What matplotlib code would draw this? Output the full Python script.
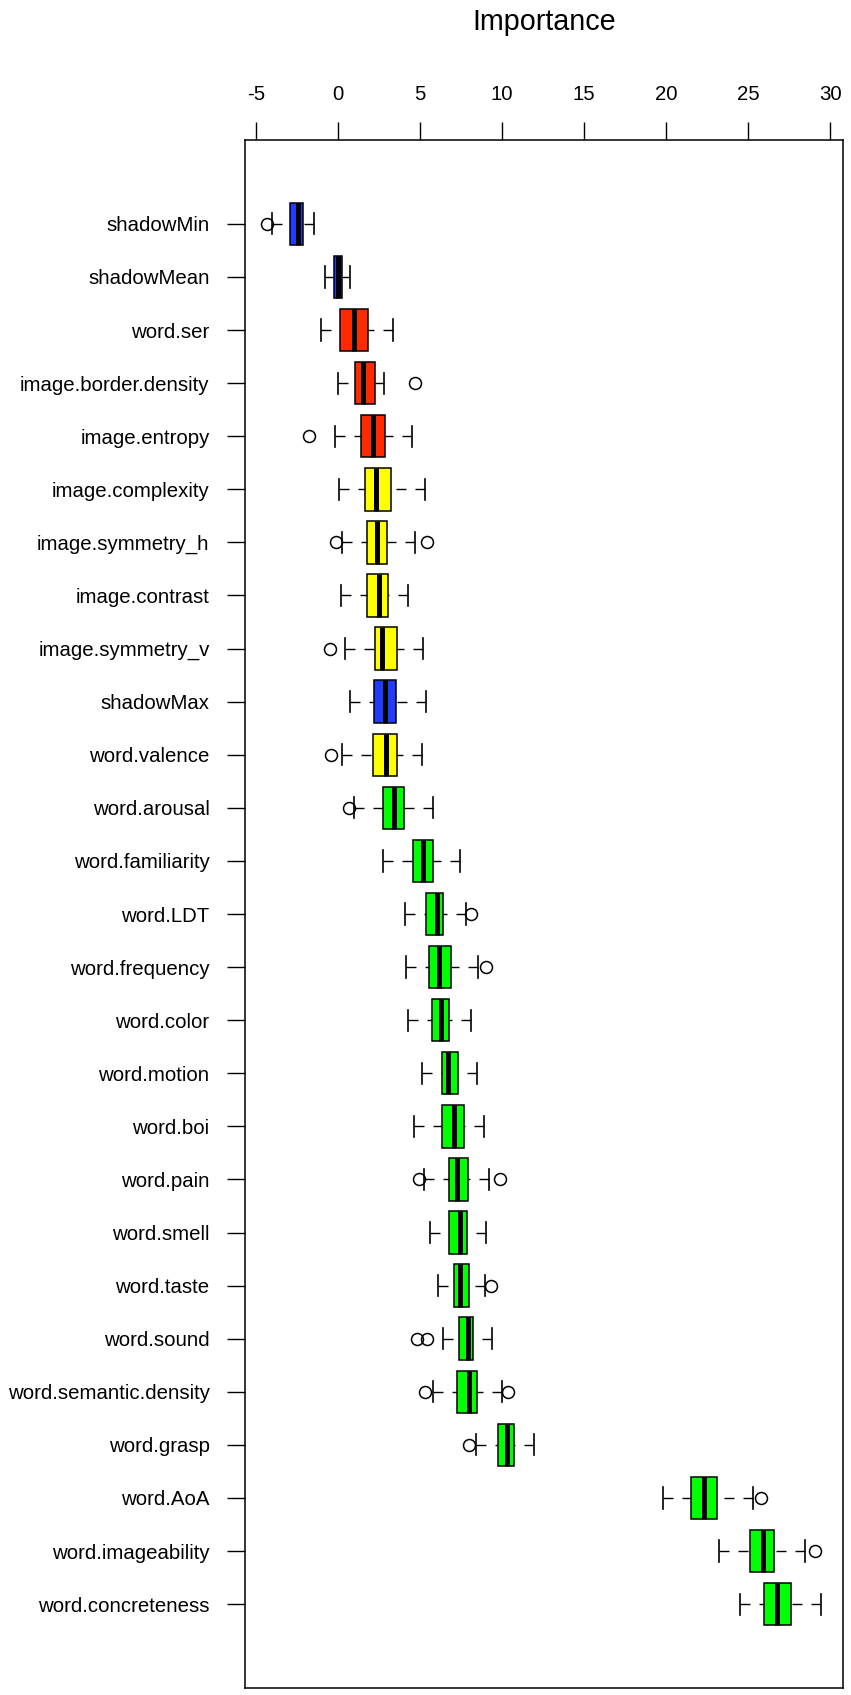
import matplotlib
matplotlib.use("Agg")
import matplotlib.pyplot as plt

# ---------------- data ----------------
features = [
    "shadowMin", "shadowMean", "word.ser", "image.border.density", "image.entropy",
    "image.complexity", "image.symmetry_h", "image.contrast", "image.symmetry_v",
    "shadowMax", "word.valence", "word.arousal", "word.familiarity", "word.LDT",
    "word.frequency", "word.color", "word.motion", "word.boi", "word.pain",
    "word.smell", "word.taste", "word.sound", "word.semantic.density", "word.grasp",
    "word.AoA", "word.imageability", "word.concreteness",
]
decision = [
    "shadow", "shadow", "rejected", "rejected", "rejected",
    "tentative", "tentative", "tentative", "tentative",
    "shadow", "tentative", "confirmed", "confirmed", "confirmed",
    "confirmed", "confirmed", "confirmed", "confirmed", "confirmed",
    "confirmed", "confirmed", "confirmed", "confirmed", "confirmed",
    "confirmed", "confirmed", "confirmed",
]
whisker_low = [-4.02, -0.77, -1.03, -0.02, -0.20, 0.04, 0.25, 0.19, 0.45, 0.76, 0.25,
               0.96, 2.74, 4.06, 4.12, 4.27, 5.10, 4.61, 5.22, 5.59, 6.07, 6.38,
               5.82, 8.41, 19.84, 23.23, 24.51]
q1 = [-2.94, -0.26, 0.15, 1.06, 1.40, 1.63, 1.77, 1.77, 2.24, 2.18, 2.12,
      2.74, 4.55, 5.38, 5.57, 5.75, 6.34, 6.34, 6.74, 6.78, 7.05, 7.39,
      7.25, 9.75, 21.50, 25.12, 25.99]
median = [-2.43, -0.02, 0.96, 1.53, 2.12, 2.32, 2.38, 2.52, 2.68, 2.85, 2.93,
          3.41, 5.18, 6.03, 6.16, 6.28, 6.70, 7.05, 7.25, 7.41, 7.41, 7.90,
          8.00, 10.30, 22.33, 25.93, 26.74]
q3 = [-2.13, 0.25, 1.83, 2.24, 2.87, 3.21, 3.01, 3.07, 3.60, 3.54, 3.62,
      4.02, 5.81, 6.40, 6.87, 6.78, 7.29, 7.70, 7.90, 7.86, 7.98, 8.26,
      8.50, 10.76, 23.09, 26.60, 27.60]
whisker_high = [-1.44, 0.76, 3.33, 2.79, 4.53, 5.32, 4.71, 4.27, 5.18, 5.38, 5.12,
                5.77, 7.41, 7.80, 8.51, 8.12, 8.47, 8.88, 9.18, 9.02, 8.98, 9.40,
                10.00, 11.92, 25.28, 28.47, 29.44]
outliers = [
    [-4.32], [], [], [4.71], [-1.74],
    [], [-0.14, 5.42], [], [-0.46],
    [], [-0.40], [0.65], [], [8.12],
    [9.02], [], [], [], [4.92, 9.89],
    [], [9.34], [4.81, 5.41], [5.29, 10.34], [8.00],
    [25.79], [29.07], [],
]
x_ticks = [-5, 0, 5, 10, 15, 20, 25, 30]
axis_title = "Importance"

# ---------------- styles ----------------
decision_colors = {
    "shadow": "#1f3cff",
    "rejected": "#ff2a00",
    "tentative": "#ffff00",
    "confirmed": "#00ff00",
}

plt.rcParams["font.family"] = ["Liberation Sans", "DejaVu Sans"]

W, H = 851, 1695
fig = plt.figure(figsize=(W / 100, H / 100), dpi=100)
ax_left, ax_right, ax_top, ax_bottom = 245, 843, 140, 1688
ax = fig.add_axes([ax_left / W, 1 - ax_bottom / H,
                   (ax_right - ax_left) / W, (ax_bottom - ax_top) / H])

stats = []
for i in range(len(features)):
    stats.append(dict(med=median[i], q1=q1[i], q3=q3[i],
                      whislo=whisker_low[i], whishi=whisker_high[i],
                      fliers=outliers[i], label=features[i]))

positions = list(range(1, len(features) + 1))
bp = ax.bxp(stats, positions=positions, orientation="horizontal",
            widths=0.8, capwidths=0.4, patch_artist=True,
            boxprops=dict(linewidth=1.1, edgecolor="black"),
            medianprops=dict(color="black", linewidth=3.6, solid_capstyle="butt"),
            whiskerprops=dict(color="black", linewidth=1.0, linestyle=(0, (7.2, 6.5))),
            capprops=dict(color="black", linewidth=1.2),
            flierprops=dict(marker="o", markerfacecolor="none",
                            markeredgecolor="black", markersize=8.6,
                            markeredgewidth=1.1, linestyle="none"))

for patch, dec in zip(bp["boxes"], decision):
    patch.set_facecolor(decision_colors[dec])

# dashes start at the whisker end, as in R
for wl in bp["whiskers"]:
    xd, yd = wl.get_data()
    wl.set_data(list(xd)[::-1], list(yd)[::-1])

lo_all = min(min(whisker_low), min(min(o) for o in outliers if o))
hi_all = max(max(whisker_high), max(max(o) for o in outliers if o))
pad = 0.04 * (hi_all - lo_all)
ax.set_xlim(lo_all - pad, hi_all + pad)
n = len(features)
ax.set_ylim(n + 0.5 + 0.04 * n, 0.5 - 0.04 * n)

ax.xaxis.tick_top()
ax.set_xticks(x_ticks)
ax.set_xticklabels([str(t) for t in x_ticks])
ax.set_yticks(positions)
ax.set_yticklabels(features)
ax.tick_params(axis="both", direction="out", length=13, width=1.0,
               labelsize=14.7, color="black")
ax.tick_params(axis="x", pad=13)
ax.tick_params(axis="y", pad=12.5)
for sp in ax.spines.values():
    sp.set_linewidth(1.1)

fig.text(((ax_left + ax_right) / 2) / W, 1 - 30 / H, axis_title,
         ha="center", va="baseline", fontsize=20.7)

fig.savefig("out.png", dpi=100, facecolor="white")
